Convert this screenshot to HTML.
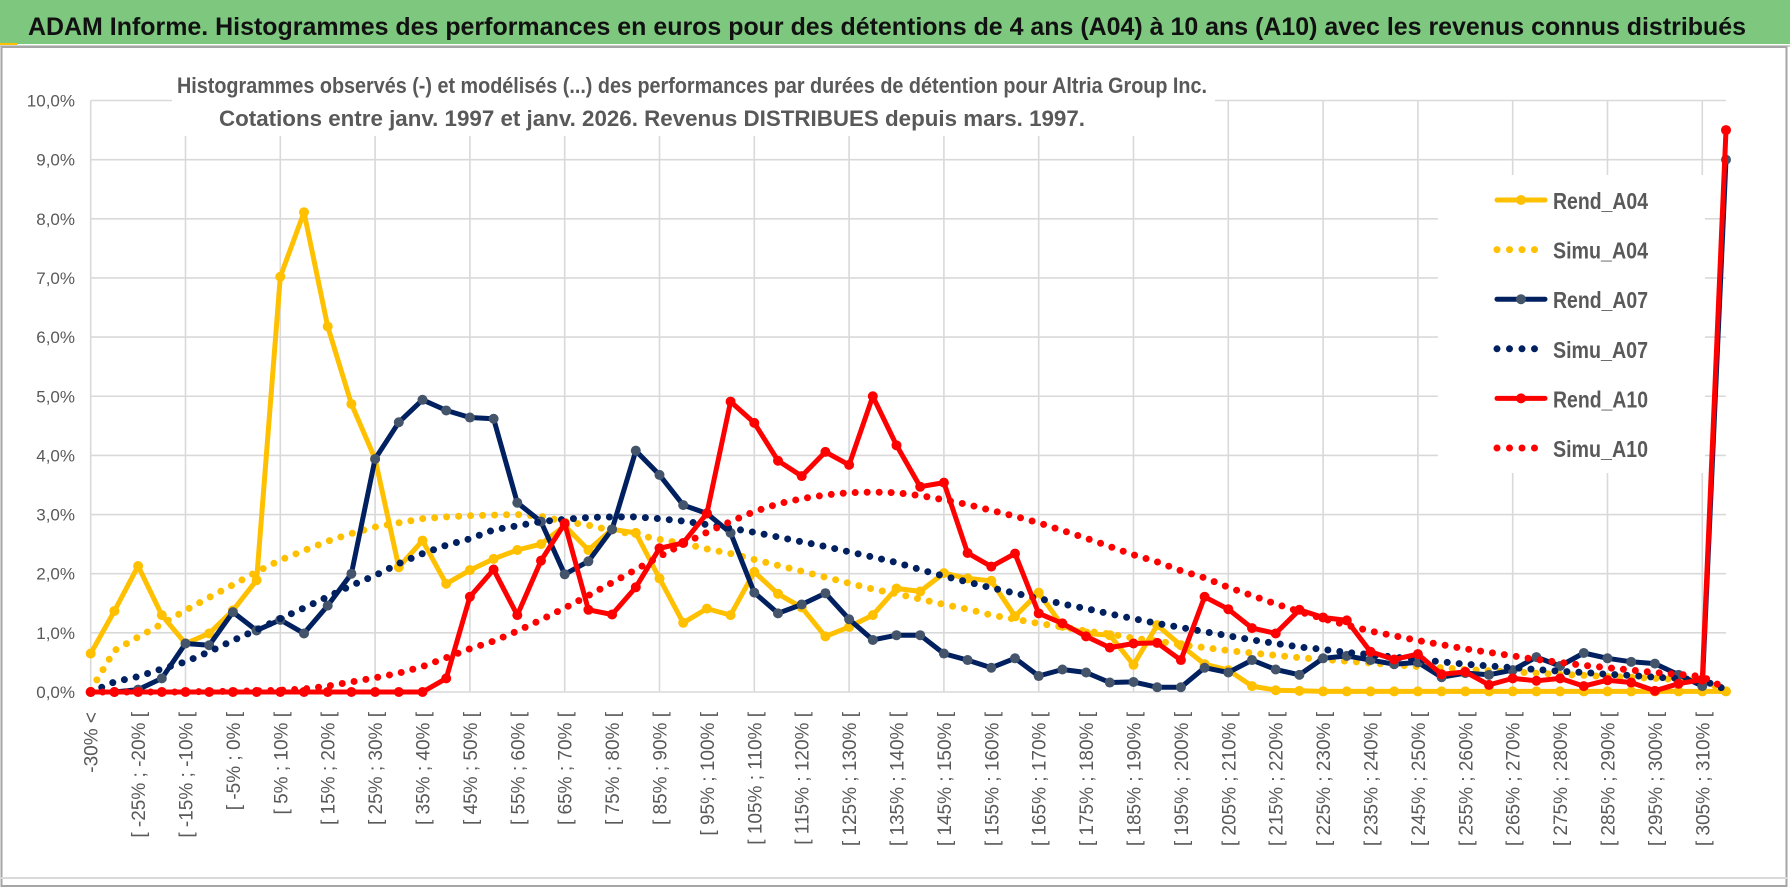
<!DOCTYPE html>
<html><head><meta charset="utf-8"><style>
html,body{margin:0;padding:0;background:#fff;}
svg{display:block;font-family:"Liberation Sans",sans-serif;}
</style></head><body>
<svg id="chart" width="1790" height="888" viewBox="0 0 1790 888" xmlns="http://www.w3.org/2000/svg">
<rect x="0" y="0" width="1790" height="888" fill="#fff"/>
<rect x="0" y="0" width="1790" height="44" fill="#7ec77f"/>
<line x1="0" y1="46" x2="1790" y2="46" stroke="#cfcfcf" stroke-width="2"/>
<rect x="0" y="43" width="17" height="2" fill="#ffc000"/>
<text x="28" y="35" font-size="25" font-weight="bold" fill="#111" textLength="1718" lengthAdjust="spacingAndGlyphs">ADAM Informe. Histogrammes des performances en euros pour des détentions de 4 ans (A04) à 10 ans (A10) avec les revenus connus distribués</text>
<rect x="1.5" y="47" width="1785" height="839" fill="none" stroke="#a6a6a6" stroke-width="2"/>
<line x1="0" y1="878" x2="1788" y2="878" stroke="#d9d9d9" stroke-width="2"/>
<g id="grid"></g>
<g id="yaxis"></g>
<g id="xaxis"></g>
<rect x="172" y="58" width="1043" height="78" fill="#fff"/>
<text x="177" y="93" font-size="22" font-weight="bold" fill="#595959" textLength="1030" lengthAdjust="spacingAndGlyphs">Histogrammes observés (-) et modélisés (...) des performances par durées de détention pour Altria Group Inc.</text>
<text x="219" y="126" font-size="22" font-weight="bold" fill="#595959" textLength="866" lengthAdjust="spacingAndGlyphs">Cotations entre janv. 1997 et janv. 2026. Revenus DISTRIBUES depuis mars. 1997.</text>
<g id="series"></g>
<g id="legend"></g>
</svg>
<script>
const rendA04 = [0.65,1.37,2.13,1.30,0.82,0.99,1.38,1.89,7.02,8.11,6.18,4.87,3.94,2.11,2.56,1.83,2.06,2.25,
 2.40,2.50,2.81,2.40,2.75,2.69,1.92,1.17,1.41,1.30,2.03,1.66,1.43,0.94,1.10,1.30,
 1.75,1.70,2.01,1.92,1.88,1.28,1.68,1.12,0.99,0.96,0.46,1.13,0.79,0.47,0.37,0.10,0.03,
 0.02,0.01,0.01,0.01,0.01,0.01,0.01,0.01,0.01,0.01,0.01,0.01,0.01,0.01,0.01,0.01,0.01,0.01,0.01];
const simuA04 = [0.03,0.70,0.93,1.15,1.38,1.60,1.81,2.03,2.23,2.39,2.55,2.68,2.79,2.86,2.93,2.96,2.98,2.99,
 3.00,2.97,2.88,2.82,2.73,2.66,2.58,2.51,2.42,2.34,2.24,2.14,2.04,1.94,1.84,1.74,
 1.66,1.57,1.48,1.40,1.30,1.23,1.16,1.10,1.03,0.98,0.91,0.86,0.80,0.75,0.70,0.66,0.62,0.58,
 0.55,0.52,0.49,0.46,0.43,0.41,0.38,0.36,0.34,0.32,0.30,0.28,0.26,0.25,0.23,0.21,0.20,0.02];
const rendA07 = [0,0,0.04,0.23,0.82,0.79,1.35,1.04,1.22,0.99,1.46,2.00,3.94,4.56,4.94,4.76,4.64,
 4.62,3.20,2.88,1.99,2.21,2.75,4.08,3.67,3.16,3.02,2.69,1.68,1.33,1.48,1.67,1.23,0.88,
 0.96,0.96,0.65,0.54,0.41,0.57,0.27,0.38,0.33,0.16,0.17,0.08,0.08,0.41,0.33,0.54,0.38,
 0.29,0.57,0.61,0.54,0.47,0.50,0.25,0.32,0.29,0.37,0.59,0.44,0.66,0.57,0.51,0.48,0.29,0.10,9.0];
const simuA07 = [0.0,0.17,0.26,0.39,0.51,0.68,0.87,1.05,1.24,1.42,1.61,1.80,1.97,2.17,2.34,2.48,2.59,
 2.74,2.81,2.88,2.92,2.95,2.96,2.96,2.93,2.89,2.83,2.77,2.70,2.62,2.54,2.46,2.37,2.28,
 2.19,2.07,1.96,1.86,1.76,1.67,1.58,1.49,1.41,1.32,1.24,1.16,1.09,1.02,0.95,0.88,0.82,0.76,
 0.72,0.67,0.63,0.59,0.55,0.51,0.47,0.44,0.41,0.38,0.35,0.33,0.30,0.28,0.25,0.23,0.20,0.04];
const rendA10 = [0,0,0,0,0,0,0,0,0,0,0,0,0,0,0,0.23,1.61,
 2.07,1.30,2.22,2.85,1.39,1.31,1.77,2.43,2.52,3.02,4.91,4.55,3.91,3.65,4.06,3.84,5.00,
 4.17,3.47,3.54,2.35,2.12,2.34,1.33,1.16,0.94,0.75,0.82,0.83,0.54,1.61,1.40,1.08,0.99,
 1.39,1.26,1.21,0.68,0.55,0.64,0.30,0.34,0.12,0.23,0.19,0.23,0.10,0.20,0.16,0.02,0.14,0.21,9.5];
const simuA10 = [0,0,0,0,0,0.01,0.01,0.02,0.03,0.05,0.10,0.17,0.24,0.32,0.43,0.58,0.73,
 0.86,1.03,1.22,1.42,1.63,1.85,2.07,2.29,2.50,2.70,2.88,3.05,3.18,3.27,3.33,3.37,3.38,
 3.37,3.32,3.25,3.17,3.07,2.97,2.86,2.73,2.60,2.46,2.32,2.20,2.05,1.93,1.77,1.63,1.49,1.36,
 1.24,1.13,1.03,0.95,0.87,0.80,0.73,0.67,0.61,0.55,0.50,0.45,0.41,0.37,0.33,0.30,0.26,0.06];
const yTicks = [0,1,2,3,4,5,6,7,8,9,10];
const yTickLabels = ["0,0%","1,0%","2,0%","3,0%","4,0%","5,0%","6,0%","7,0%","8,0%","9,0%","10,0%"];
const categories = ["-30% <"];
for (let k = 1; k < 70; k++) { const a = -30 + 5*(k-1); categories.push("[ " + a + "% ; " + (a+5) + "% ["); }
const seriesNames = ["Rend_A04","Simu_A04","Rend_A07","Simu_A07","Rend_A10","Simu_A10"];

const NS = "http://www.w3.org/2000/svg";
const X0 = 90.7, XSTEP = 23.7, Y0 = 692, YUNIT = 59.15;
function xPos(i){ return X0 + i*XSTEP; }
function yPos(v){ return Y0 - v*YUNIT; }
function mk(tag, attrs, parent){ const e=document.createElementNS(NS,tag); for(const k in attrs) e.setAttribute(k,attrs[k]); parent.appendChild(e); return e; }

const grid = document.getElementById('grid');
const xEnd = xPos(categories.length-1);
yTicks.forEach(function(t){
  const l = mk('line',{x1:X0,x2:xEnd,y1:yPos(t),y2:yPos(t),stroke:'#d9d9d9','stroke-width':1.6},grid);
  
  
});
for (let i=0;i<categories.length;i+=4){
  const l = mk('line',{x1:xPos(i),x2:xPos(i),y1:yPos(10),y2:Y0,stroke:'#d9d9d9','stroke-width':1.6},grid);
  
  
}
const yaxis = document.getElementById('yaxis');
yTicks.forEach(function(t,j){
  const tx = mk('text',{x:75,y:yPos(t)+6,'text-anchor':'end','font-size':17,fill:'#595959'},yaxis);
  tx.textContent = yTickLabels[j];
  
  
});
const xaxis = document.getElementById('xaxis');
for (let i=0;i<categories.length;i+=2){
  const x = xPos(i)+7, y = 712;
  const tx = mk('text',{x:x,y:y,'text-anchor':'end','font-size':19,fill:'#595959',transform:'rotate(-90 '+x+' '+y+')'},xaxis);
  tx.textContent = categories[i];
  
  
}

const seriesG = document.getElementById('series');
function pts(arr){ return arr.map(function(v,i){ return xPos(i).toFixed(1)+','+yPos(v).toFixed(1); }).join(' '); }
function drawObs(arr,color,mcolor,name){
  const g = mk('g',{},seriesG);
  
  
  mk('polyline',{points:pts(arr),fill:'none',stroke:color,'stroke-width':5,'stroke-linejoin':'round'},g);
  arr.forEach(function(v,i){
    const c = mk('circle',{cx:xPos(i),cy:yPos(v),r:5,fill:mcolor},g);
    
    
  });
}
function drawSim(arr,color,name){
  const p = mk('polyline',{points:pts(arr),fill:'none',stroke:color,'stroke-width':7,'stroke-linecap':'round','stroke-dasharray':'0 12'},seriesG);
  
  
}
drawObs(rendA04,'#ffc000','#ffc000','series-rend-a04');
drawSim(simuA04,'#ffc000','series-simu-a04');
drawObs(rendA07,'#002060','#44546a','series-rend-a07');
drawSim(simuA07,'#002060','series-simu-a07');
drawObs(rendA10,'#ff0000','#ff0000','series-rend-a10');
drawSim(simuA10,'#ff0000','series-simu-a10');

const legend = document.getElementById('legend');
mk('rect',{x:1438,y:175,width:267,height:298,fill:'#fff'},legend);
const legColors = ['#ffc000','#ffc000','#002060','#002060','#ff0000','#ff0000'];
const legMarker = ['#ffc000',null,'#44546a',null,'#ff0000',null];
seriesNames.forEach(function(n,j){
  const cy = 200 + j*49.6;
  const g = mk('g',{},legend);
  
  
  if (legMarker[j]) {
    mk('line',{x1:1497,x2:1545,y1:cy,y2:cy,stroke:legColors[j],'stroke-width':5,'stroke-linecap':'round'},g);
    mk('circle',{cx:1521,cy:cy,r:5,fill:legMarker[j]},g);
  } else {
    mk('line',{x1:1497,x2:1547,y1:cy,y2:cy,stroke:legColors[j],'stroke-width':7,'stroke-linecap':'round','stroke-dasharray':'0 12.5'},g);
  }
  const t = mk('text',{x:1553,y:cy+9,'font-size':23,'font-weight':'bold',fill:'#595959',textLength:95,lengthAdjust:'spacingAndGlyphs'},g);
  t.textContent = n;
});
</script>
</body></html>
